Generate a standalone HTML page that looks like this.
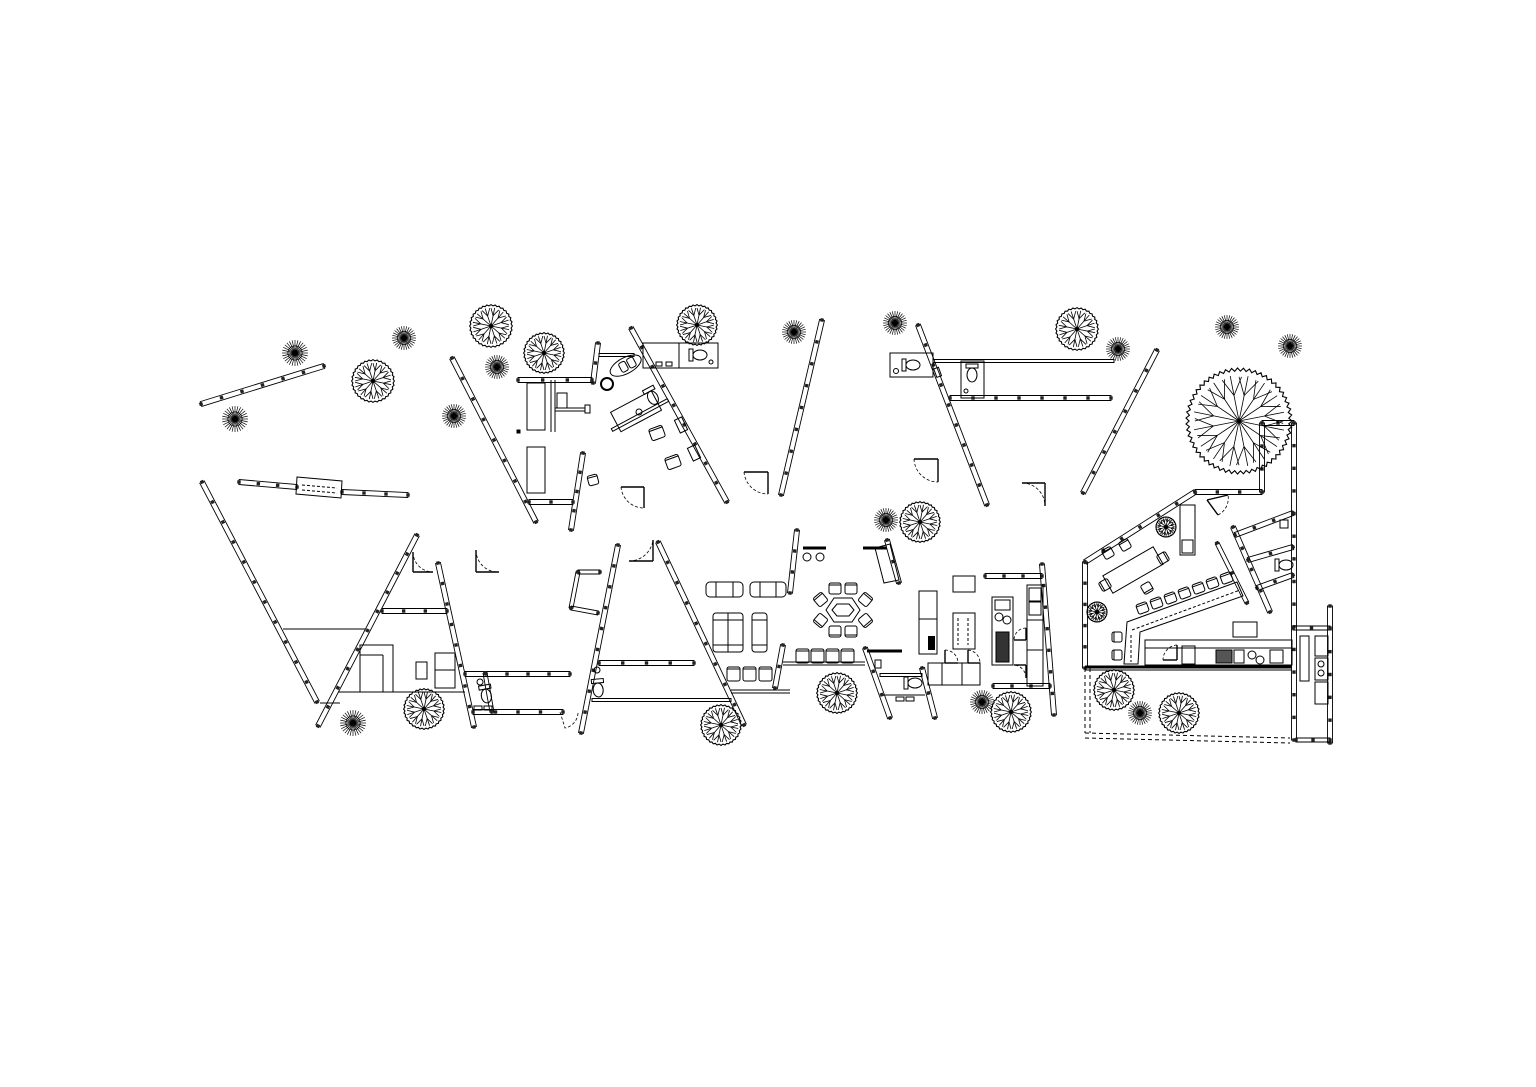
<!DOCTYPE html>
<html><head><meta charset="utf-8"><style>
html,body{margin:0;padding:0;background:#fff;width:1536px;height:1087px;overflow:hidden}
svg{display:block}
</style></head><body>
<svg id="s" width="1536" height="1087" viewBox="0 0 1536 1087" xmlns="http://www.w3.org/2000/svg">
<rect width="1536" height="1087" fill="#fff"/>
<g id="g" fill="none" stroke="#000" stroke-width="1"></g>
</svg>
<script>
var G=document.getElementById('g'),out='';
function L(x1,y1,x2,y2,extra){out+='<line x1="'+x1+'" y1="'+y1+'" x2="'+x2+'" y2="'+y2+'" '+(extra||'')+'/>';}
function R(x,y,w,h,extra){out+='<rect x="'+x+'" y="'+y+'" width="'+w+'" height="'+h+'" '+(extra||'')+'/>';}
function C(x,y,r,extra){out+='<circle cx="'+x+'" cy="'+y+'" r="'+r+'" '+(extra||'')+'/>';}
function wall(x1,y1,x2,y2,w,step){
  w=w||5;step=step||22;
  var dx=x2-x1,dy=y2-y1,len=Math.hypot(dx,dy),ux=dx/len,uy=dy/len,nx=-uy*w/2,ny=ux*w/2;
  out+='<polygon points="'+(x1+nx)+','+(y1+ny)+' '+(x2+nx)+','+(y2+ny)+' '+(x2-nx)+','+(y2-ny)+' '+(x1-nx)+','+(y1-ny)+'" stroke-width="0.9"/>';
  var n=Math.max(1,Math.round(len/step));
  for(var i=0;i<=n;i++){var t=i/n,px=x1+dx*t,py=y1+dy*t;
    out+='<rect x="'+(px-1.7)+'" y="'+(py-1.7)+'" width="3.4" height="3.4" fill="#222" stroke="none" transform="rotate('+(Math.atan2(dy,dx)*180/Math.PI)+' '+px+' '+py+')"/>';}
}
function thin(x1,y1,x2,y2,w){
  w=w||3;var dx=x2-x1,dy=y2-y1,len=Math.hypot(dx,dy),nx=-dy/len*w/2,ny=dx/len*w/2;
  out+='<polygon points="'+(x1+nx)+','+(y1+ny)+' '+(x2+nx)+','+(y2+ny)+' '+(x2-nx)+','+(y2-ny)+' '+(x1-nx)+','+(y1-ny)+'"/>';
}
function tree(cx,cy,r){
  var p='',N=r>30?110:64;for(var i=0;i<N;i++){var a=i/N*Math.PI*2,rr=r*(i%2?0.96:1.02);p+=(i?'L':'M')+(cx+rr*Math.cos(a)).toFixed(1)+' '+(cy+rr*Math.sin(a)).toFixed(1);}
  out+='<path d="'+p+'Z" stroke-width="1.1"/>';
  var nb=r>30?16:12;
  for(var i=0;i<nb;i++){var a=i/nb*Math.PI*2+0.2,ex=cx+r*0.88*Math.cos(a),ey=cy+r*0.88*Math.sin(a),mx=cx+r*0.5*Math.cos(a),my=cy+r*0.5*Math.sin(a);
    L(cx,cy,ex,ey,'stroke-width="0.8"');
    L(mx,my,cx+r*0.85*Math.cos(a+0.25),cy+r*0.85*Math.sin(a+0.25),'stroke-width="0.8"');
    L(mx,my,cx+r*0.85*Math.cos(a-0.2),cy+r*0.85*Math.sin(a-0.2),'stroke-width="0.8"');}
  C(cx,cy,1.5,'fill="#000"');
}
function spiky(cx,cy,r){
  for(var i=0;i<28;i++){var a=i/28*Math.PI*2;L(cx+r*0.25*Math.cos(a),cy+r*0.25*Math.sin(a),cx+r*Math.cos(a),cy+r*Math.sin(a),'stroke-width="0.7"');}
  C(cx,cy,r*0.55,'stroke-width="0.7"');C(cx,cy,r*0.22,'fill="#000"');
}
function door(hx,hy,ax,ay,bx,by){
  var r=Math.hypot(ax-hx,ay-hy);L(hx,hy,ax,ay,'stroke-width="1.4"');L(hx,hy,bx,by,'stroke-width="1.4"');
  out+='<path d="M'+ax+' '+ay+' A'+r+' '+r+' 0 0 0 '+bx+' '+by+'" stroke-dasharray="3 2" stroke-width="0.8"/>';
}
function door2(hx,hy,ax,ay,bx,by){
  var r=Math.hypot(ax-hx,ay-hy);L(hx,hy,ax,ay,'stroke-width="1.4"');L(hx,hy,bx,by,'stroke-width="1.4"');
  out+='<path d="M'+ax+' '+ay+' A'+r+' '+r+' 0 0 1 '+bx+' '+by+'" stroke-dasharray="3 2" stroke-width="0.8"/>';
}
function chair(x,y,w,h,rot){out+='<g transform="rotate('+(rot||0)+' '+(x+w/2)+' '+(y+h/2)+')"><rect x="'+x+'" y="'+y+'" width="'+w+'" height="'+h+'" rx="2"/><line x1="'+x+'" y1="'+(y+2)+'" x2="'+(x+w)+'" y2="'+(y+2)+'"/></g>';}
function toilet(x,y,rot){out+='<g transform="rotate('+(rot||0)+' '+x+' '+y+')"><rect x="'+(x-6)+'" y="'+(y-9)+'" width="12" height="4"/><ellipse cx="'+x+'" cy="'+(y+2)+'" rx="5" ry="7"/></g>';}

wall(201,404,324,366);
wall(239,482,297,487);wall(342,492,408,495);
out+='<polygon points="297,477 342,481 341,498 296,494"/>';L(302,485,337,488,'stroke-dasharray="3 2"');L(302,490,337,493,'stroke-dasharray="3 2"');
wall(202,482,317,702);
wall(318,726,417,535);
wall(438,563,474,727);
wall(382,611,447,611);
L(283,629,365,629);L(338,692,465,692);L(320,703,340,703);
R(360,645,33,47);L(360,655,383,655);L(383,655,383,692);
R(416,662,11,17);R(435,653,20,35);L(435,670,455,670);
wall(465,674,570,674);wall(473,712,563,712);
wall(485,673,492,712,4,40);
toilet(486,694,-10);R(474,706,8,4);R(484,706,8,4);C(480,682,3);
door(413,572,413,552,433,572);door(476,572,476,550,499,572);
out+='<path d="M560 712 L565 728 A16 16 0 0 0 578 712" stroke-dasharray="3 2" stroke-width="0.8"/>';
wall(452,358,536,522);
wall(598,343,593,383,5,20);
wall(583,453,571,530);
wall(631,328,727,502);
wall(518,380,592,380);
thin(599,355,634,355);
wall(529,502,573,502);
L(555,380,555,432);L(551,380,551,432);
R(527,383,18,47);R(527,447,18,46);
R(557,393,10,15);L(555,408,585,408);L(555,411,585,411);R(585,405,5,8);
R(517,430,3,3,'fill="#000"');
R(643,343,75,25);R(679,343,39,25);toilet(698,355,-90);C(711,362,2);R(656,362,6,4);R(666,362,6,4);
out+='<g transform="rotate(-28 640 408)"><rect x="612" y="398" width="46" height="22"/></g>';
toilet(652,396,-28);C(639,412,3);
thin(612,430,668,400);
out+='<g transform="rotate(-28 620 372)"><ellipse cx="628" cy="369" rx="17" ry="8"/><rect x="622" y="364" width="7" height="10" rx="2"/><rect x="631" y="364" width="7" height="10" rx="2"/></g>';
C(607,384,6,'stroke-width="2"');
chair(650,427,14,12,-20);chair(666,456,14,12,-20);
R(677,418,8,14,'transform="rotate(-25 681 425)"');R(690,446,8,14,'transform="rotate(-25 694 453)"');
chair(588,475,10,10,-15);
door(644,487,621,487,644,508);door(768,472,744,472,768,494);
door(653,561,629,561,653,540);
wall(618,545,581,733);wall(658,542,744,725);
wall(578,572,600,572,4,30);wall(578,572,571,608,4,30);wall(571,608,598,613,4,30);
wall(599,663,694,663);thin(592,700,731,700);
toilet(598,688,-5);C(597,670,3);
R(706,582,37,15,'rx="4"');L(716,582,716,597);L(733,582,733,597);
R(750,582,36,15,'rx="4"');L(760,582,760,597);L(776,582,776,597);
R(713,613,30,39,'rx="3"');L(728,613,728,652);L(713,620,743,620);L(713,645,743,645);
R(752,613,15,39,'rx="3"');L(752,620,767,620);L(752,645,767,645);
for(var i=0;i<3;i++)chair(727+i*16,667,13,14,0);
L(731,690,790,690);L(731,693,790,693);
for(var i=0;i<4;i++)chair(796+i*15,649,13,14,0);
L(783,662,865,662);L(783,665,865,665);
wall(797,530,790,593,5,20);wall(783,645,775,688,5,20);
out+='<polygon points="826,610 834,598 852,598 860,610 852,622 834,622"/>';
out+='<polygon points="832,610 837,604 849,604 854,610 849,616 837,616"/>';
chair(829,583,12,11);chair(845,583,12,11);chair(829,626,12,11,180);chair(845,626,12,11,180);
chair(815,594,11,11,-40);chair(860,594,11,11,40);chair(815,615,11,11,-140);chair(860,615,11,11,140);
wall(822,320,781,495);
wall(918,325,987,505);
wall(1157,350,1083,493);
R(890,353,43,24);toilet(911,365,-90);C(896,371,2.5);R(935,368,5,9,'transform="rotate(-20 937 372)"');
R(961,361,23,37);toilet(972,373,0);C(966,391,2);
thin(933,361,1114,361);wall(950,398,1111,398);
door(938,459,914,459,938,482);door2(1045,483,1022,483,1045,506);
L(803,548,826,548,'stroke-width="3"');L(863,548,887,548,'stroke-width="3"');
C(807,557,4);C(820,557,4);
wall(887,540,899,583,5,20);out+='<polygon points="875,548 890,544 899,580 884,583"/>';
L(867,651,902,651,'stroke-width="3"');
wall(865,648,890,718);wall(922,668,935,718);
thin(880,675,922,675);L(883,695,925,695);toilet(913,683,-90);R(896,697,8,4);R(906,697,8,4);R(875,660,6,8);
R(919,591,18,63);L(919,619,937,619);R(928,636,7,14,'fill="#000" stroke="none"');
R(953,576,22,16);R(953,613,22,36);L(958,618,958,645,'stroke-dasharray="3 2"');L(968,618,968,645,'stroke-dasharray="3 2"');
R(992,597,21,68);R(995,600,15,10);C(999,617,4);C(1007,620,4);R(996,632,13,30,'fill="#333"');
wall(985,576,1042,576);wall(993,686,1050,686);wall(1042,564,1054,715);
R(1027,585,16,101);R(1029,588,12,13);R(1029,602,12,13);L(1027,620,1043,620);L(1027,650,1043,650);
R(928,663,52,22);L(942,663,942,685);L(962,663,962,685);
door2(945,663,945,650,958,663);door2(968,663,968,650,980,663);
door(1026,640,1026,628,1014,640);door(1026,665,1026,678,1014,665);
wall(1262,423,1294,423,5,15);wall(1262,423,1262,492);wall(1294,423,1294,740);
wall(1195,492,1262,492);wall(1195,492,1085,562);wall(1085,562,1085,668);
L(1085,667,1292,667,'stroke-width="3"');L(1085,670,1292,670);
wall(1293,628,1330,628,4,15);wall(1330,606,1330,743);wall(1296,740,1330,740,4,15);
R(1300,636,9,45);R(1315,636,13,20);R(1315,658,13,22);R(1315,682,13,22);C(1321,664,3);C(1321,673,3);
L(1085,668,1085,733,'stroke-dasharray="4 3"');L(1090,668,1090,733,'stroke-dasharray="4 3"');
L(1085,733,1290,738,'stroke-dasharray="4 3"');L(1085,738,1290,743,'stroke-dasharray="4 3"');
R(1180,505,15,50);R(1182,540,11,13);
wall(1235,535,1293,513);wall(1248,560,1293,547);wall(1257,588,1293,575);
wall(1233,527,1270,612);wall(1217,543,1247,603,4,30);
R(1280,520,8,8);toilet(1284,565,-90);
door(1207,500,1218,515,1228,495);
out+='<g transform="rotate(-30 1133 570)"><rect x="1104" y="560" width="58" height="20"/></g>';
chair(1103,548,10,10,-30);chair(1120,540,10,10,-30);chair(1142,583,10,10,150);chair(1100,580,10,10,-120);chair(1158,553,10,10,60);
out+='<polygon points="1127,622 1237,582 1243,596 1140,632 1138,664 1124,664" />';
L(1132,630,1240,590,'stroke-dasharray="3 2"');L(1131,635,1131,662,'stroke-dasharray="3 2"');
for(var i=0;i<7;i++)chair(1137+i*14,603-i*5,11,10,-20);
chair(1112,632,10,10,-90);chair(1112,650,10,10,-90);
R(1145,640,147,25);L(1145,648,1292,648);R(1182,646,13,18);R(1216,650,16,13,'fill="#555"');R(1234,650,10,13);C(1252,655,4);C(1260,660,4);R(1270,650,13,13);
R(1233,622,24,15);
door(1177,660,1177,645,1163,660);
tree(491,326,21);tree(544,353,20);tree(373,381,21);tree(697,325,20);
tree(424,709,20);tree(721,725,20);tree(1077,329,21);tree(920,522,20);
tree(837,693,20);tree(1011,712,20);tree(1114,690,20);tree(1179,713,20);
tree(1239,421,52);
spiky(295,353,13);spiky(404,338,12);spiky(235,419,13);spiky(497,367,12);spiky(454,416,12);spiky(353,723,13);
spiky(794,332,12);spiky(895,323,12);spiky(1118,349,12);spiky(1227,327,12);spiky(1290,346,12);
spiky(886,520,12);spiky(982,702,12);spiky(1140,713,12);
tree(1166,527,10);tree(1097,612,10);
G.innerHTML=out;
</script>
</body></html>
